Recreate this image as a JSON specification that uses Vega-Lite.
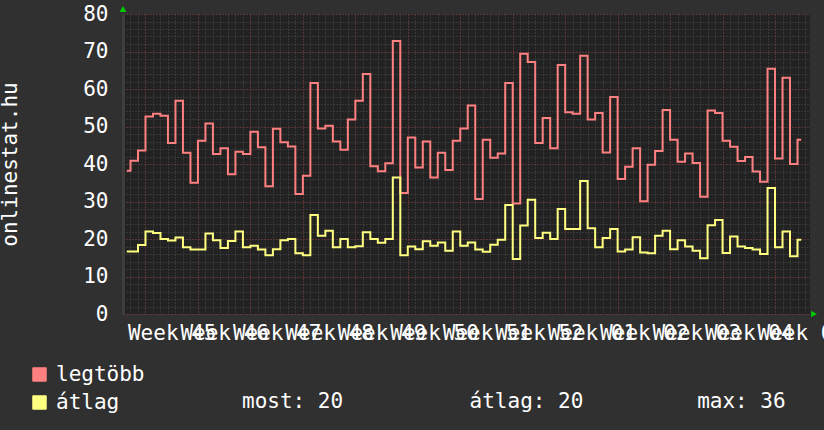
{
  "$schema": "https://vega.github.io/schema/vega-lite/v6.json",
  "width": 687,
  "height": 300,
  "autosize": {"type": "none"},
  "padding": {"left": 123, "top": 14, "right": 14, "bottom": 116},
  "background": "#303030",
  "config": {
    "view": {"fill": "#222222", "stroke": null},
    "font": "DejaVu Sans Mono"
  },
  "title": {
    "text": "most: 20\u00a0\u00a0\u00a0\u00a0\u00a0\u00a0\u00a0\u00a0\u00a0\u00a0átlag: 20\u00a0\u00a0\u00a0\u00a0\u00a0\u00a0\u00a0\u00a0\u00a0max: 36",
    "orient": "bottom",
    "anchor": "start",
    "frame": "group",
    "dx": 119,
    "offset": -22,
    "font": "DejaVu Sans Mono",
    "fontSize": 21,
    "fontWeight": "normal",
    "color": "#ffffff"
  },
  "data": {
    "values": [
      {"date": "2019-11-01", "max": 38.2, "avg": 16.7},
      {"date": "2019-11-02", "max": 40.9, "avg": 16.7},
      {"date": "2019-11-03", "max": 43.6, "avg": 18.4},
      {"date": "2019-11-04", "max": 52.7, "avg": 22.0},
      {"date": "2019-11-05", "max": 53.4, "avg": 21.6},
      {"date": "2019-11-06", "max": 52.9, "avg": 20.0},
      {"date": "2019-11-07", "max": 45.6, "avg": 19.6},
      {"date": "2019-11-08", "max": 56.9, "avg": 20.4},
      {"date": "2019-11-09", "max": 43.0, "avg": 17.8},
      {"date": "2019-11-10", "max": 35.0, "avg": 17.2},
      {"date": "2019-11-11", "max": 46.2, "avg": 17.2},
      {"date": "2019-11-12", "max": 50.8, "avg": 21.5},
      {"date": "2019-11-13", "max": 42.7, "avg": 19.7},
      {"date": "2019-11-14", "max": 44.2, "avg": 17.6},
      {"date": "2019-11-15", "max": 37.3, "avg": 19.5},
      {"date": "2019-11-16", "max": 43.3, "avg": 22.0},
      {"date": "2019-11-17", "max": 42.7, "avg": 17.8},
      {"date": "2019-11-18", "max": 48.6, "avg": 18.2},
      {"date": "2019-11-19", "max": 44.5, "avg": 17.2},
      {"date": "2019-11-20", "max": 34.1, "avg": 15.7},
      {"date": "2019-11-21", "max": 49.4, "avg": 17.3},
      {"date": "2019-11-22", "max": 45.8, "avg": 19.7},
      {"date": "2019-11-23", "max": 44.7, "avg": 20.0},
      {"date": "2019-11-24", "max": 32.0, "avg": 16.2},
      {"date": "2019-11-25", "max": 36.9, "avg": 15.7},
      {"date": "2019-11-26", "max": 61.6, "avg": 26.4},
      {"date": "2019-11-27", "max": 49.5, "avg": 20.9},
      {"date": "2019-11-28", "max": 50.2, "avg": 22.2},
      {"date": "2019-11-29", "max": 46.0, "avg": 17.8},
      {"date": "2019-11-30", "max": 43.8, "avg": 20.0},
      {"date": "2019-12-01", "max": 51.9, "avg": 17.8},
      {"date": "2019-12-02", "max": 56.9, "avg": 18.1},
      {"date": "2019-12-03", "max": 64.0, "avg": 21.8},
      {"date": "2019-12-04", "max": 39.4, "avg": 20.0},
      {"date": "2019-12-05", "max": 38.1, "avg": 19.0},
      {"date": "2019-12-06", "max": 40.2, "avg": 20.0},
      {"date": "2019-12-07", "max": 72.8, "avg": 36.4},
      {"date": "2019-12-08", "max": 32.3, "avg": 15.7},
      {"date": "2019-12-09", "max": 47.1, "avg": 18.0},
      {"date": "2019-12-10", "max": 39.1, "avg": 17.3},
      {"date": "2019-12-11", "max": 46.0, "avg": 19.4},
      {"date": "2019-12-12", "max": 36.4, "avg": 18.2},
      {"date": "2019-12-13", "max": 43.0, "avg": 19.1},
      {"date": "2019-12-14", "max": 38.4, "avg": 16.9},
      {"date": "2019-12-15", "max": 46.2, "avg": 22.0},
      {"date": "2019-12-16", "max": 49.5, "avg": 18.2},
      {"date": "2019-12-17", "max": 55.6, "avg": 19.1},
      {"date": "2019-12-18", "max": 30.7, "avg": 17.2},
      {"date": "2019-12-19", "max": 46.5, "avg": 16.6},
      {"date": "2019-12-20", "max": 41.7, "avg": 18.5},
      {"date": "2019-12-21", "max": 42.8, "avg": 19.8},
      {"date": "2019-12-22", "max": 61.6, "avg": 29.1},
      {"date": "2019-12-23", "max": 29.5, "avg": 14.7},
      {"date": "2019-12-24", "max": 69.4, "avg": 23.6},
      {"date": "2019-12-25", "max": 67.2, "avg": 30.5},
      {"date": "2019-12-26", "max": 45.6, "avg": 20.3},
      {"date": "2019-12-27", "max": 52.3, "avg": 21.7},
      {"date": "2019-12-28", "max": 44.2, "avg": 20.0},
      {"date": "2019-12-29", "max": 66.4, "avg": 28.0},
      {"date": "2019-12-30", "max": 53.8, "avg": 22.7},
      {"date": "2019-12-31", "max": 53.4, "avg": 22.7},
      {"date": "2020-01-01", "max": 68.9, "avg": 35.5},
      {"date": "2020-01-02", "max": 51.9, "avg": 22.9},
      {"date": "2020-01-03", "max": 53.6, "avg": 17.8},
      {"date": "2020-01-04", "max": 43.1, "avg": 20.3},
      {"date": "2020-01-05", "max": 57.9, "avg": 22.7},
      {"date": "2020-01-06", "max": 36.0, "avg": 16.7},
      {"date": "2020-01-07", "max": 39.3, "avg": 17.2},
      {"date": "2020-01-08", "max": 44.2, "avg": 20.5},
      {"date": "2020-01-09", "max": 30.1, "avg": 16.4},
      {"date": "2020-01-10", "max": 39.8, "avg": 16.2},
      {"date": "2020-01-11", "max": 43.5, "avg": 20.9},
      {"date": "2020-01-12", "max": 54.4, "avg": 22.2},
      {"date": "2020-01-13", "max": 46.5, "avg": 17.3},
      {"date": "2020-01-14", "max": 40.6, "avg": 19.7},
      {"date": "2020-01-15", "max": 42.8, "avg": 18.0},
      {"date": "2020-01-16", "max": 40.3, "avg": 16.9},
      {"date": "2020-01-17", "max": 31.3, "avg": 14.9},
      {"date": "2020-01-18", "max": 54.3, "avg": 23.7},
      {"date": "2020-01-19", "max": 53.6, "avg": 25.1},
      {"date": "2020-01-20", "max": 46.2, "avg": 16.3},
      {"date": "2020-01-21", "max": 44.6, "avg": 20.7},
      {"date": "2020-01-22", "max": 40.8, "avg": 18.0},
      {"date": "2020-01-23", "max": 41.9, "avg": 17.6},
      {"date": "2020-01-24", "max": 38.0, "avg": 17.2},
      {"date": "2020-01-25", "max": 35.3, "avg": 16.0},
      {"date": "2020-01-26", "max": 65.4, "avg": 33.6},
      {"date": "2020-01-27", "max": 41.5, "avg": 17.8},
      {"date": "2020-01-28", "max": 63.0, "avg": 22.0},
      {"date": "2020-01-29", "max": 40.0, "avg": 15.4},
      {"date": "2020-01-30", "max": 46.5, "avg": 19.8}
    ]
  },
  "resolve": {"axis": {"x": "independent", "y": "independent"}},
  "layer": [
    {
      "mark": {"type": "line", "interpolate": "step", "strokeWidth": 2},
      "encoding": {
        "x": {
          "field": "date", "timeUnit": "utcyearmonthdate", "type": "temporal", "bandPosition": 0.5,
          "scale": {"type": "utc", "domain": [{"year": 2019, "month": 11, "date": 1, "utc": true}, {"year": 2020, "month": 1, "date": 31, "hours": 16, "utc": true}]},
          "axis": {"orient": "bottom", "tickCount": {"interval": "day", "step": 1}, "grid": true, "gridColor": "#4c4c4c", "gridDash": [1, 2], "labels": false, "ticks": false, "domain": false, "title": null}
        },
        "y": {
          "field": "max", "type": "quantitative",
          "scale": {"domain": [0, 80], "nice": false},
          "axis": {"orient": "left", "values": [0,2,4,6,8,10,12,14,16,18,20,22,24,26,28,30,32,34,36,38,40,42,44,46,48,50,52,54,56,58,60,62,64,66,68,70,72,74,76,78,80], "grid": true, "gridColor": "#4c4c4c", "gridDash": [1, 2], "labels": false, "ticks": false, "domain": false, "title": null}
        },
        "color": {
          "datum": "legtöbb",
          "scale": {"domain": ["legtöbb", "átlag"], "range": ["#ff8080", "#ffff80"]},
          "legend": {
            "orient": "none", "legendX": -94, "legendY": 350, "title": null,
            "symbolType": "square", "symbolSize": 180,
            "labelFont": "DejaVu Sans Mono", "labelFontSize": 21, "labelColor": "#ffffff",
            "labelOffset": 6, "rowPadding": 6,
            "encode": {"symbols": {"update": {"fill": {"scale": "color", "field": "value"}, "stroke": {"value": "#000000"}, "strokeWidth": {"value": 1}, "opacity": {"value": 1}}}}
          }
        }
      }
    },
    {
      "mark": {"type": "line", "interpolate": "step", "strokeWidth": 2},
      "encoding": {
        "x": {
          "field": "date", "timeUnit": "utcyearmonthdate", "type": "temporal", "bandPosition": 0.5,
          "axis": {"orient": "bottom", "values": [
            {"year": 2019, "month": 11, "date": 4, "utc": true},
            {"year": 2019, "month": 11, "date": 11, "utc": true},
            {"year": 2019, "month": 11, "date": 18, "utc": true},
            {"year": 2019, "month": 11, "date": 25, "utc": true},
            {"year": 2019, "month": 12, "date": 2, "utc": true},
            {"year": 2019, "month": 12, "date": 9, "utc": true},
            {"year": 2019, "month": 12, "date": 16, "utc": true},
            {"year": 2019, "month": 12, "date": 23, "utc": true},
            {"year": 2019, "month": 12, "date": 30, "utc": true},
            {"year": 2020, "month": 1, "date": 6, "utc": true},
            {"year": 2020, "month": 1, "date": 13, "utc": true},
            {"year": 2020, "month": 1, "date": 20, "utc": true},
            {"year": 2020, "month": 1, "date": 27, "utc": true}
          ], "grid": true, "gridColor": "#803434", "gridDash": [1, 2], "labels": false, "ticks": false, "domain": false, "title": null}
        },
        "y": {
          "field": "avg", "type": "quantitative",
          "axis": {"orient": "left", "values": [0,10,20,30,40,50,60,70,80], "grid": true, "gridColor": "#803434", "gridDash": [1, 2],
            "ticks": false, "domain": true, "domainColor": "#3e3e3e", "domainWidth": 3,
            "labelFont": "DejaVu Sans Mono", "labelFontSize": 21, "labelColor": "#ffffff", "labelPadding": 15,
            "title": "onlinestat.hu", "titleFont": "DejaVu Sans Mono", "titleFontSize": 21, "titleFontWeight": "normal", "titleColor": "#ffffff", "titlePadding": 62}
        },
        "color": {"datum": "átlag"}
      }
    },
    {
      "data": {"values": [{"arrow": "y"}]},
      "mark": {"type": "point", "shape": "triangle-up", "filled": true, "size": 45, "color": "#00cc00", "opacity": 1, "yOffset": -5},
      "encoding": {
        "x": {
          "datum": {"year": 2019, "month": 11, "date": 1, "utc": true}, "type": "temporal",
          "axis": {"orient": "bottom", "values": [
            {"year": 2019, "month": 11, "date": 7, "hours": 12, "utc": true},
            {"year": 2019, "month": 11, "date": 14, "hours": 12, "utc": true},
            {"year": 2019, "month": 11, "date": 21, "hours": 12, "utc": true},
            {"year": 2019, "month": 11, "date": 28, "hours": 12, "utc": true},
            {"year": 2019, "month": 12, "date": 5, "hours": 12, "utc": true},
            {"year": 2019, "month": 12, "date": 12, "hours": 12, "utc": true},
            {"year": 2019, "month": 12, "date": 19, "hours": 12, "utc": true},
            {"year": 2019, "month": 12, "date": 26, "hours": 12, "utc": true},
            {"year": 2020, "month": 1, "date": 2, "hours": 12, "utc": true},
            {"year": 2020, "month": 1, "date": 9, "hours": 12, "utc": true},
            {"year": 2020, "month": 1, "date": 16, "hours": 12, "utc": true},
            {"year": 2020, "month": 1, "date": 23, "hours": 12, "utc": true},
            {"year": 2020, "month": 1, "date": 30, "hours": 12, "utc": true}
          ],
            "labelExpr": "'Week ' + utcFormat(datum.value, '%V')",
            "grid": false, "ticks": false, "domain": false, "title": null,
            "labelOverlap": false, "labelFlush": false, "labelBound": false,
            "labelFont": "DejaVu Sans Mono", "labelFontSize": 21, "labelColor": "#ffffff", "labelPadding": 8, "labelAlign": "center", "labelBaseline": "top"}
        },
        "y": {"datum": 80, "type": "quantitative", "axis": null}
      }
    },
    {
      "data": {"values": [{"arrow": "x"}]},
      "mark": {"type": "point", "shape": "triangle-right", "filled": true, "size": 45, "color": "#00cc00", "opacity": 1, "xOffset": 4},
      "encoding": {
        "x": {"datum": {"year": 2020, "month": 1, "date": 31, "hours": 16, "utc": true}, "type": "temporal", "axis": null},
        "y": {"datum": 0, "type": "quantitative", "axis": null}
      }
    }
  ]
}
